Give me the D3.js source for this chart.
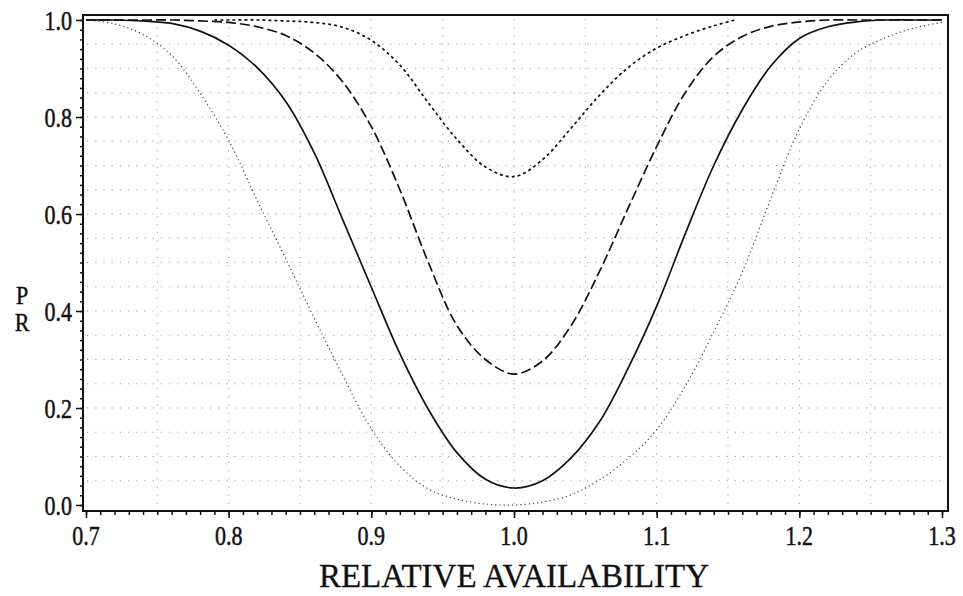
<!DOCTYPE html>
<html lang="en">
<head>
    <meta charset="UTF-8">
    <title>PR vs Relative Availability</title>
    <script src="https://d3js.org/d3.v7.min.js"></script>
    <style>
        body {
            margin: 0;
            background: #fff;
            font-family: "Liberation Serif", "DejaVu Serif", serif;
        }
        .tick-label {
            font-family: "Liberation Serif", serif;
            font-size: 22px;
            fill: #111;
            stroke: #111;
            stroke-width: 0.4px;
        }
        .axis-title {
            font-family: "Liberation Serif", serif;
            font-size: 33px;
            fill: #111;
            stroke: #111;
            stroke-width: 0.3px;
        }
        .grid line {
            stroke: #9a9a9a;
            stroke-width: 1;
            stroke-dasharray: 1.2, 7;
        }
    </style>
</head>
<body>
    <div id="chart"></div>
    <script>
        // values
        const relAvail = [0.70, 0.72, 0.74, 0.76, 0.78, 0.80, 0.82, 0.84, 0.86, 0.88, 0.90,
                          0.92, 0.94, 0.96, 0.98, 1.00, 1.02, 1.04, 1.06, 1.08, 1.10,
                          1.12, 1.14, 1.16, 1.18, 1.20, 1.22, 1.24, 1.26, 1.28, 1.30];

        const prSolid = [1.0, 1.0, 0.998, 0.993, 0.977, 0.948, 0.902, 0.832, 0.726, 0.588, 0.449,
                         0.312, 0.197, 0.108, 0.053, 0.035, 0.050, 0.097, 0.172, 0.282, 0.410,
                         0.559, 0.700, 0.815, 0.905, 0.962, 0.986, 0.996, 1.0, 1.0, 1.0];

        const prLongDash = [1.0, 1.0, 1.0, 1.0, 0.998, 0.995, 0.986, 0.968, 0.932, 0.872, 0.780,
                            0.650, 0.500, 0.370, 0.300, 0.270, 0.297, 0.370, 0.482, 0.612, 0.739,
                            0.850, 0.925, 0.966, 0.987, 0.996, 1.0, 1.0, 1.0, 1.0, 1.0];

        const prDotted = [1.0, 0.992, 0.970, 0.927, 0.849, 0.752, 0.628, 0.508, 0.385, 0.267, 0.157,
                          0.080, 0.033, 0.012, 0.002, 0.0, 0.006, 0.021, 0.052, 0.096, 0.155,
                          0.245, 0.357, 0.480, 0.632, 0.775, 0.875, 0.933, 0.963, 0.983, 0.995];

        // the short-dashed curve only covers part of the range
        const relAvailShort = [0.79, 0.80, 0.82, 0.84, 0.86, 0.88, 0.90, 0.92, 0.94, 0.96,
                               0.98, 1.00, 1.02, 1.04, 1.06, 1.08, 1.10, 1.12, 1.14, 1.155];
        const prShortDash = [1.0, 1.0, 1.0, 0.998, 0.995, 0.985, 0.958, 0.907, 0.829, 0.754,
                             0.697, 0.677, 0.712, 0.777, 0.845, 0.902, 0.942, 0.968, 0.988, 1.0];

        const xTicks = [0.7, 0.8, 0.9, 1.0, 1.1, 1.2, 1.3];
        const yTicks = [0.0, 0.2, 0.4, 0.6, 0.8, 1.0];

        const width = 963, height = 596;
        const plot = {left: 86, right: 942, top: 20, bottom: 505};

        const svg = d3.select("#chart")
                      .append("svg")
                      .attr("width", width)
                      .attr("height", height);

        const x = d3.scaleLinear().domain([0.7, 1.3]).range([plot.left, plot.right]);
        const y = d3.scaleLinear().domain([0, 1]).range([plot.bottom, plot.top]);

        // frame sits a little outside the data range
        const fx0 = x(0.7) - 3, fx1 = x(1.3) + 6;
        const fy0 = y(1.0) - 5, fy1 = y(0) + 6;

        // dotted grid every 0.05
        const grid = svg.append("g").attr("class", "grid");
        grid.selectAll(".gv")
            .data(d3.range(0.75, 1.26, 0.05))
            .enter().append("line")
            .attr("x1", d => x(d)).attr("x2", d => x(d))
            .attr("y1", fy0 + 4).attr("y2", fy1 - 2);
        grid.selectAll(".gh")
            .data(d3.range(0.05, 0.96, 0.05))
            .enter().append("line")
            .attr("y1", d => y(d)).attr("y2", d => y(d))
            .attr("x1", fx0 + 4).attr("x2", fx1 - 4);

        // curves
        const line = d3.line()
            .x(d => x(d[0]))
            .y(d => Math.max(y(1), y(d[1])))
            .curve(d3.curveCatmullRom.alpha(0.5));

        const series = [
            {xs: relAvail, ys: prDotted, dash: "1.2,3", w: 1.2, color: "#444"},
            {xs: relAvailShort, ys: prShortDash, dash: "3,3", w: 1.7, color: "#111"},
            {xs: relAvail, ys: prLongDash, dash: "10,4", w: 1.7, color: "#111"},
            {xs: relAvail, ys: prSolid, dash: null, w: 1.7, color: "#111"}
        ];

        svg.append("g")
            .selectAll("path")
            .data(series)
            .enter().append("path")
            .attr("d", s => line(s.xs.map((v, i) => [v, s.ys[i]])))
            .attr("fill", "none")
            .attr("stroke", s => s.color)
            .attr("stroke-width", s => s.w)
            .attr("stroke-dasharray", s => s.dash);

        // frame
        svg.append("rect")
            .attr("x", fx0).attr("y", fy0)
            .attr("width", fx1 - fx0).attr("height", fy1 - fy0)
            .attr("fill", "none")
            .attr("stroke", "#111")
            .attr("stroke-width", 2);

        // x axis: major + minor ticks below the frame
        const xAxis = svg.append("g").attr("transform", `translate(0,${fy1})`);
        xAxis.call(d3.axisBottom(x).tickValues(d3.range(0.7, 1.3001, 0.01)).tickSize(4).tickFormat(""))
             .call(g => g.select(".domain").remove());
        xAxis.append("g")
             .call(d3.axisBottom(x).tickValues(xTicks).tickSize(7).tickFormat(""))
             .call(g => g.select(".domain").remove());
        xAxis.selectAll("line").attr("stroke", "#111").attr("stroke-width", 1.5);

        // labels are tall and narrow in the scan, so stretch them vertically
        svg.append("g")
            .selectAll("text")
            .data(xTicks)
            .enter().append("text")
            .attr("class", "tick-label")
            .attr("transform", d => `translate(${x(d)},545) scale(1,1.25)`)
            .attr("text-anchor", "middle")
            .text(d => d.toFixed(1));

        // y axis
        const yAxis = svg.append("g").attr("transform", `translate(${fx0},0)`);
        yAxis.call(d3.axisLeft(y).tickValues(d3.range(0, 1.0001, 0.02)).tickSize(3).tickFormat(""))
             .call(g => g.select(".domain").remove());
        yAxis.append("g")
             .call(d3.axisLeft(y).tickValues(yTicks).tickSize(7).tickFormat(""))
             .call(g => g.select(".domain").remove());
        yAxis.selectAll("line").attr("stroke", "#111").attr("stroke-width", 1.5);

        svg.append("g")
            .selectAll("text")
            .data(yTicks)
            .enter().append("text")
            .attr("class", "tick-label")
            .attr("transform", d => `translate(72,${y(d)}) scale(1,1.25)`)
            .attr("dy", "0.35em")
            .attr("text-anchor", "end")
            .text(d => d.toFixed(1));

        // axis titles
        svg.append("text")
            .attr("class", "axis-title")
            .attr("x", (plot.left + plot.right) / 2)
            .attr("y", 587)
            .attr("text-anchor", "middle")
            .text("RELATIVE AVAILABILITY");

        // stacked P / R label
        svg.append("g")
            .selectAll("text")
            .data(["P", "R"])
            .enter().append("text")
            .attr("class", "tick-label")
            .attr("transform", (d, i) => `translate(22,${304 + i * 27}) scale(1,1.1)`)
            .attr("text-anchor", "middle")
            .text(d => d);
    </script>
</body>
</html>
